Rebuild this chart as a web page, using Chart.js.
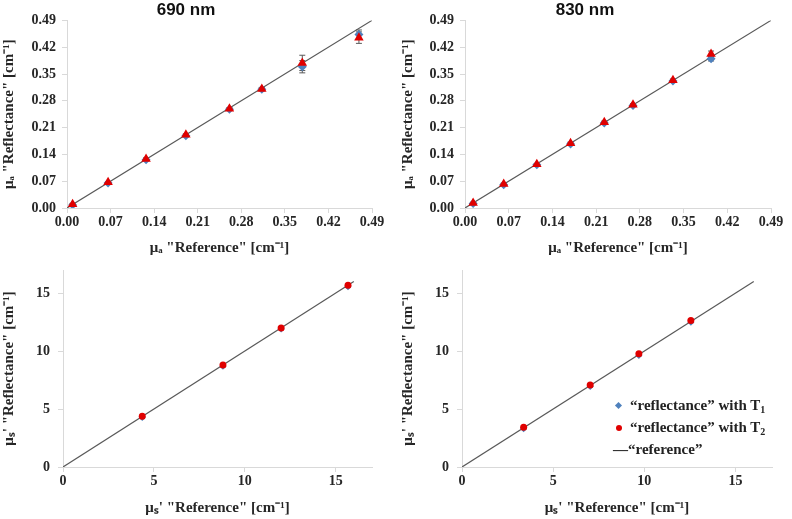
<!DOCTYPE html>
<html>
<head>
<meta charset="utf-8">
<script src="https://cdn.jsdelivr.net/npm/chart.js@4.4.1/dist/chart.umd.min.js"></script>
<style>
  body { margin: 0; background: #fff; }
  #wrap { position: relative; width: 792px; height: 519px; overflow: hidden; }
  canvas { position: absolute; }
  .lg { position: absolute; font: bold 15px "Liberation Serif", serif; color: #222; white-space: nowrap; line-height: 18px; }
  .lg sub { font-size: 10px; vertical-align: -3px; line-height: 0; }
  .mk { position: absolute; }
</style>
</head>
<body>
<div id="wrap">
  <canvas id="c690a" width="396" height="260" style="left:0;top:0"></canvas>
  <canvas id="c830a" width="412" height="260" style="left:380px;top:0"></canvas>
  <canvas id="c690s" width="396" height="259" style="left:0;top:260px"></canvas>
  <canvas id="c830s" width="412" height="259" style="left:380px;top:260px"></canvas>

  <!-- legend of the bottom right panel -->
  <div class="mk" style="left:616px;top:403px;width:5px;height:5px;background:#4f81bd;transform:rotate(45deg)"></div>
  <div class="lg" style="left:630px;top:396px">“reflectance” with T<sub>1</sub></div>
  <div class="mk" style="left:616px;top:425px;width:6px;height:6px;border-radius:50%;background:#e00000"></div>
  <div class="lg" style="left:630px;top:418px">“reflectance” with T<sub>2</sub></div>
  <div class="lg" style="left:613px;top:440px">—“reference”</div>
</div>

<script>
// tick labels
const ticksMua = [0, 0.07, 0.14, 0.21, 0.28, 0.35, 0.42, 0.49];
const ticksMus = [0, 5, 10, 15];

// reference line ends
const lineMua = [0, 0.49];
const lineMus = [0, 16];

// 690 nm, absorption
const muaRef690 = [0.009, 0.066, 0.127, 0.191, 0.261, 0.313, 0.378, 0.469];
const muaT1_690 = [0.008, 0.065, 0.126, 0.189, 0.258, 0.310, 0.369, 0.453];
const muaT2_690 = [0.010, 0.067, 0.128, 0.191, 0.259, 0.311, 0.379, 0.445];
const errT1_690 = [0.002, 0.002, 0.003, 0.003, 0.003, 0.004, 0.016, 0.012];
const errT2_690 = [0.002, 0.002, 0.003, 0.003, 0.003, 0.004, 0.020, 0.015];

// 830 nm, absorption
const muaRef830 = [0.013, 0.062, 0.115, 0.169, 0.223, 0.269, 0.333, 0.394];
const muaT1_830 = [0.012, 0.061, 0.113, 0.167, 0.222, 0.268, 0.332, 0.390];
const muaT2_830 = [0.013, 0.063, 0.114, 0.169, 0.224, 0.270, 0.334, 0.402];
const errT1_830 = [0.002, 0.002, 0.002, 0.003, 0.003, 0.003, 0.003, 0.006];
const errT2_830 = [0.002, 0.002, 0.002, 0.003, 0.003, 0.003, 0.003, 0.008];

// 690 nm, reduced scattering
const musRef690 = [4.36, 8.80, 12.0, 15.68];
const musT1_690 = [4.28, 8.70, 11.90, 15.55];
const musT2_690 = [4.39, 8.80, 12.0, 15.69];

// 830 nm, reduced scattering
const musRef830 = [3.38, 7.03, 9.70, 12.55];
const musT1_830 = [3.30, 6.94, 9.62, 12.50];
const musT2_830 = [3.44, 7.08, 9.78, 12.65];

const red = "#e00000";
const blue = "#4f81bd";
const axisGray = "#d9d9d9";
const textCol = "#262626";
const tickFont = { family: "Liberation Serif", weight: "bold", size: 14 };
const titleFont = { family: "Liberation Serif", weight: "bold", size: 15, lineHeight: 1.2 };

function pts(xs, ys) {
  return xs.map((x, i) => ({ x: x, y: ys[i] }));
}

// small vertical error bars drawn through the scales
const errorBars = {
  id: "errorBars",
  beforeDatasetsDraw(chart) {
    const ctx = chart.ctx;
    const xs = chart.scales.x, ys = chart.scales.y;
    ctx.save();
    ctx.strokeStyle = "#595959";
    ctx.lineWidth = 1;
    chart.data.datasets.forEach(ds => {
      if (!ds.errors) return;
      ds.data.forEach((p, i) => {
        const e = ds.errors[i];
        const px = xs.getPixelForValue(p.x);
        const y1 = ys.getPixelForValue(p.y - e);
        const y2 = ys.getPixelForValue(p.y + e);
        ctx.beginPath();
        ctx.moveTo(px, y1); ctx.lineTo(px, y2);
        ctx.moveTo(px - 3, y1); ctx.lineTo(px + 3, y1);
        ctx.moveTo(px - 3, y2); ctx.lineTo(px + 3, y2);
        ctx.stroke();
      });
    });
    ctx.restore();
  }
};

function axis(o, horizontal) {
  return {
    type: "linear",
    min: 0,
    max: o.max,
    afterBuildTicks: s => { s.ticks = o.ticks.map(v => ({ value: v })); },
    afterFit: s => {
      if (horizontal) { s.height = o.xh; s.paddingLeft = 0; s.paddingRight = 0; }
      else { s.width = o.yw; s.paddingTop = 0; s.paddingBottom = 0; }
    },
    ticks: {
      font: tickFont,
      color: textCol,
      padding: horizontal ? 1 : o.ytp,
      callback: v => o.fmt(v)
    },
    grid: { drawOnChartArea: false, color: axisGray, tickLength: 5 },
    border: { color: axisGray },
    title: {
      display: true,
      text: horizontal ? o.xTitle : o.yTitle,
      font: titleFont,
      color: textCol,
      padding: horizontal ? { top: 0, bottom: o.xtb } : { top: 0, bottom: 0 }
    }
  };
}

function makeChart(id, o) {
  new Chart(document.getElementById(id), {
    type: "scatter",
    data: {
      datasets: [
        { label: "“reflectance” with T₂", data: pts(o.ref, o.t2), errors: o.e2,
          pointStyle: o.t2Style, pointRadius: o.r2, backgroundColor: red, borderColor: red, borderWidth: 0 },
        { label: "“reflectance” with T₁", data: pts(o.ref, o.t1), errors: o.e1,
          pointStyle: "rectRot", pointRadius: o.r1, backgroundColor: blue, borderColor: blue, borderWidth: 0 },
        { label: "“reference”", data: pts(o.line, o.line), showLine: true,
          borderColor: "#595959", borderWidth: 1.2, pointRadius: 0 }
      ]
    },
    options: {
      responsive: false,
      animation: false,
      devicePixelRatio: 1,
      layout: { padding: o.pad },
      plugins: {
        legend: { display: false },
        tooltip: { enabled: false },
        title: {
          display: !!o.title,
          text: o.title,
          color: "#111",
          font: { family: "Liberation Sans", weight: "bold", size: 17, lineHeight: 1.2 },
          padding: { top: 0, bottom: 0 }
        }
      },
      scales: {
        x: axis(o, true),
        y: axis(o, false)
      }
    },
    plugins: [errorBars]
  });
}

const fmtA = v => v.toFixed(2);
const fmtS = v => String(v);
const xTitleA = "μₐ \"Reference\" [cm⁻¹]";
const yTitleA = "μₐ \"Reflectance\" [cm⁻¹]";
const xTitleS = "μₛ' \"Reference\" [cm⁻¹]";
const yTitleS = "μₛ' \"Reflectance\" [cm⁻¹]";

makeChart("c690a", {
  title: "690 nm", ref: muaRef690, t1: muaT1_690, t2: muaT2_690, e1: errT1_690, e2: errT2_690,
  line: lineMua, ticks: ticksMua, max: 0.49, fmt: fmtA, t2Style: "triangle", r1: 4.5, r2: 5.5,
  xTitle: xTitleA, yTitle: yTitleA, pad: { left: 0, right: 24, top: 0, bottom: 0 },
  xh: 52, yw: 67, ytp: 6, xtb: 3
});

makeChart("c830a", {
  title: "830 nm", ref: muaRef830, t1: muaT1_830, t2: muaT2_830, e1: errT1_830, e2: errT2_830,
  line: lineMua, ticks: ticksMua, max: 0.49, fmt: fmtA, t2Style: "triangle", r1: 4.5, r2: 5.5,
  xTitle: xTitleA, yTitle: yTitleA, pad: { left: 19, right: 21, top: 0, bottom: 0 },
  xh: 52, yw: 66, ytp: 6, xtb: 3
});

makeChart("c690s", {
  title: "", ref: musRef690, t1: musT1_690, t2: musT2_690, e1: null, e2: null,
  line: lineMus, ticks: ticksMus, max: 17, fmt: fmtS, t2Style: "circle", r1: 3.5, r2: 3.5,
  xTitle: xTitleS, yTitle: yTitleS, pad: { left: 0, right: 24, top: 10, bottom: 0 },
  xh: 52, yw: 63, ytp: 8, xtb: 2
});

makeChart("c830s", {
  title: "", ref: musRef830, t1: musT1_830, t2: musT2_830, e1: null, e2: null,
  line: lineMus, ticks: ticksMus, max: 17, fmt: fmtS, t2Style: "circle", r1: 3.5, r2: 3.5,
  xTitle: xTitleS, yTitle: yTitleS, pad: { left: 19, right: 20, top: 10, bottom: 0 },
  xh: 52, yw: 63, ytp: 8, xtb: 2
});
</script>
</body>
</html>
